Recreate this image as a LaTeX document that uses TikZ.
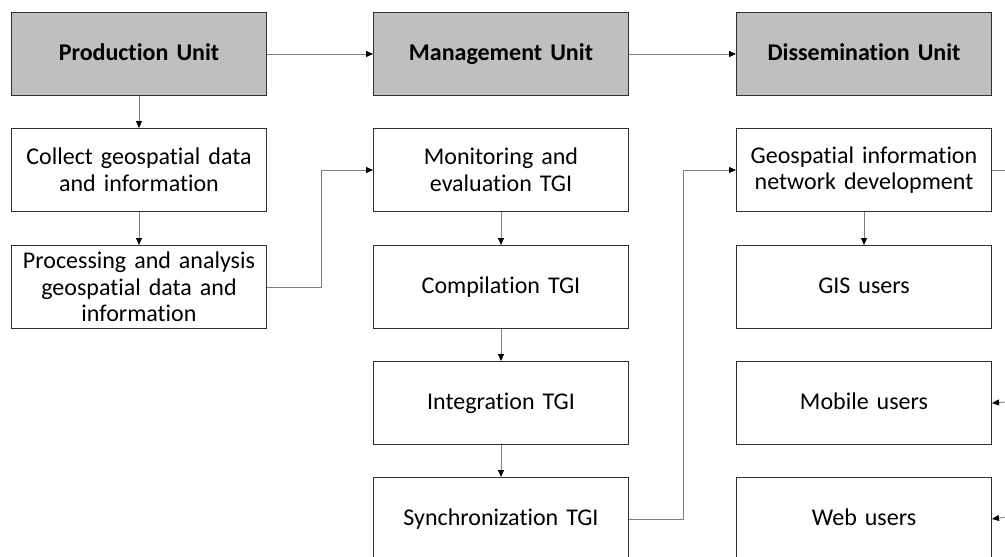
\documentclass[tikz,border=0pt]{standalone}
\usepackage{fontspec}
\setmainfont{Carlito}[Ligatures={NoCommon}]
\usetikzlibrary{arrows.meta}
\definecolor{hdrgray}{HTML}{BFBFBF}
\definecolor{boxline}{HTML}{303030}
\definecolor{conn}{HTML}{7F7F7F}
\tikzset{
  box/.style={draw=boxline, line width=1pt, minimum width=255pt, minimum height=83pt,
    inner sep=2pt, align=center, font=\fontsize{24}{26.5}\selectfont, anchor=north west, text width=250pt},
  one/.style={text height=17pt, text depth=5pt},
  hdr/.style={box, one, fill=hdrgray, font=\fontsize{24}{26.5}\selectfont\bfseries},
  conn/.style={draw=conn, line width=0.8pt, -{Triangle[length=7pt,width=6pt,color=black]}},
  plainconn/.style={draw=conn, line width=0.8pt},
}
\begin{document}
\begin{tikzpicture}[x=1pt,y=-1pt]
\useasboundingbox (0,0) rectangle (1005,557);
\clip (0,0) rectangle (1005,557);
\fill[white] (0,0) rectangle (1005,557);
% headers
\node[hdr] (pu) at (11,12) {Production Unit};
\node[hdr] (mu) at (373,12) {Management Unit};
\node[hdr] (du) at (736,12) {Dissemination Unit};
% column 1
\node[box] (collect) at (11,128) {Collect geospatial data\\and information};
\node[box] (proc) at (11,245) {Processing and analysis\\geospatial data and\\information};
% column 2
\node[box] (mon) at (373,128) {Monitoring and\\evaluation TGI};
\node[box, one] (comp) at (373,245) {Compilation TGI};
\node[box, one] (integ) at (373,361) {Integration TGI};
\node[box, one] (sync) at (373,477) {Synchronization TGI};
% column 3
\node[box] (geo) at (736,128) {Geospatial information\\network development};
\node[box, one] (gis) at (736,245) {GIS users};
\node[box, one] (mob) at (736,361) {Mobile users};
\node[box, one] (web) at (736,477) {Web users};
% connectors
\draw[conn] (pu.east) -- (mu.west);
\draw[conn] (mu.east) -- (du.west);
\draw[conn] (pu.south) -- (collect.north);
\draw[conn] (collect.south) -- (proc.north);
\draw[conn] (mon.south) -- (comp.north);
\draw[conn] (comp.south) -- (integ.north);
\draw[conn] (integ.south) -- (sync.north);
\draw[conn] (geo.south) -- (gis.north);
\draw[conn] (proc.east) -- ++(54,0) |- (mon.west);
\draw[conn] (sync.east) -- ++(54,0) |- (geo.west);
\coordinate (rOut) at (1006,170);
\coordinate (rMob) at (1006,402);
\coordinate (rWeb) at (1006,517);
\draw[plainconn] (geo.east) -- (rOut);
\draw[conn] (rMob) -- (mob.east);
\draw[conn] (rWeb) -- (web.east);
\end{tikzpicture}
\end{document}
